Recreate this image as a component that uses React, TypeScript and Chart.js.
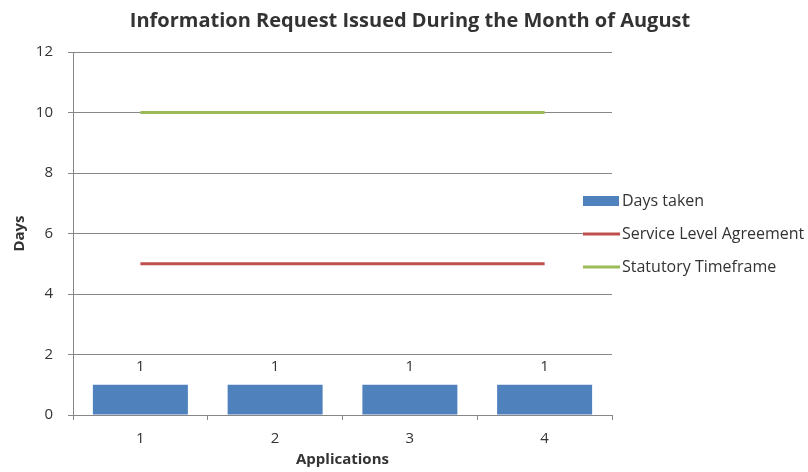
import React, { useEffect, useRef } from "react";
import { Chart, registerables } from "chart.js";

Chart.register(...registerables);

const chartTitle = "Information Request Issued During the Month of August";
const categories = ["1", "2", "3", "4"];
const daysTaken = [1, 1, 1, 1];
const serviceLevel = [5, 5, 5, 5];
const statutory = [10, 10, 10, 10];
const yTicks = [0, 2, 4, 6, 8, 10, 12];

const FONT = "'Open Sans', sans-serif";
const TEXT = "#333333";

const titlePlugin = {
  id: "centerTitle",
  afterDraw(chart: any) {
    const ctx = chart.ctx;
    ctx.save();
    ctx.font = `bold 20px ${FONT}`;
    ctx.fillStyle = TEXT;
    ctx.textAlign = "center";
    ctx.textBaseline = "middle";
    ctx.fillText(chartTitle, chart.width / 2 + 6, 21);
    ctx.restore();
  },
};

const dataLabelPlugin = {
  id: "barLabels",
  afterDatasetsDraw(chart: any) {
    const ctx = chart.ctx;
    chart.data.datasets.forEach((ds: any, i: number) => {
      if (ds.type !== "bar") return;
      const meta = chart.getDatasetMeta(i);
      ctx.save();
      ctx.font = `15px ${FONT}`;
      ctx.fillStyle = TEXT;
      ctx.textAlign = "center";
      ctx.textBaseline = "middle";
      meta.data.forEach((el: any, j: number) => {
        ctx.fillText(String(ds.data[j]), el.x, el.y - 18);
      });
      ctx.restore();
    });
  },
};

const sideLegendPlugin = {
  id: "sideLegend",
  afterDraw(chart: any) {
    const ctx = chart.ctx;
    const area = chart.chartArea;
    const mid = (area.top + area.bottom) / 2;
    const x0 = area.right - 29;
    const n = chart.data.datasets.length;
    ctx.save();
    ctx.font = `16px ${FONT}`;
    ctx.textBaseline = "middle";
    ctx.textAlign = "left";
    chart.data.datasets.forEach((ds: any, i: number) => {
      const y = Math.round(mid + (i - (n - 1) / 2) * 33);
      if (ds.type === "bar") {
        ctx.fillStyle = ds.backgroundColor;
        ctx.fillRect(x0, y - 5, 36, 10);
      } else {
        ctx.strokeStyle = ds.borderColor;
        ctx.lineWidth = 3;
        ctx.beginPath();
        ctx.moveTo(x0, y);
        ctx.lineTo(x0 + 37, y);
        ctx.stroke();
      }
      ctx.fillStyle = TEXT;
      ctx.fillText(ds.label, x0 + 39, y);
    });
    ctx.restore();
  },
};

export default function App() {
  const ref = useRef<HTMLCanvasElement | null>(null);
  useEffect(() => {
    document.body.style.margin = "0";
    if (!ref.current) return;
    const chart = new Chart(ref.current, {
      type: "bar",
      data: {
        labels: categories,
        datasets: [
          {
            type: "bar",
            label: "Days taken",
            data: daysTaken,
            backgroundColor: "#4F81BD",
            barPercentage: 0.705,
            categoryPercentage: 1,
            order: 3,
          } as any,
          {
            type: "line",
            label: "Service Level Agreement",
            data: serviceLevel,
            borderColor: "#C0504D",
            backgroundColor: "#C0504D",
            borderWidth: 3,
            pointRadius: 0,
            order: 2,
          } as any,
          {
            type: "line",
            label: "Statutory Timeframe",
            data: statutory,
            borderColor: "#9BBB59",
            backgroundColor: "#9BBB59",
            borderWidth: 3,
            pointRadius: 0,
            order: 1,
          } as any,
        ],
      },
      options: {
        responsive: false,
        animation: false,
        layout: { padding: { left: 0, right: 196, top: 52, bottom: 0 } },
        plugins: {
          legend: { display: false },
          tooltip: { enabled: false },
          title: { display: false },
        },
        scales: {
          x: {
            offset: true,
            grid: {
              offset: true,
              drawOnChartArea: false,
              drawTicks: true,
              tickLength: 5,
              color: "#878787",
            },
            border: { color: "#878787" },
            ticks: { color: TEXT, font: { family: FONT, size: 15 }, padding: 10 },
            title: {
              display: true,
              text: "Applications",
              color: TEXT,
              font: { family: FONT, size: 15, weight: "bold" },
              padding: { top: 0, bottom: 3 },
            },
            afterFit: (s: any) => {
              s.height = 57;
            },
          },
          y: {
            min: 0,
            max: 12,
            afterBuildTicks: (s: any) => {
              s.ticks = yTicks.map((v) => ({ value: v }));
            },
            grid: { color: "#878787", tickLength: 5 },
            border: { color: "#878787" },
            ticks: { color: TEXT, font: { family: FONT, size: 15 }, padding: 15 },
            title: {
              display: true,
              text: "Days",
              color: TEXT,
              font: { family: FONT, size: 15, weight: "bold" },
              padding: { top: 11, bottom: 0 },
            },
            afterFit: (s: any) => {
              s.width = 73;
            },
          },
        },
      },
      plugins: [dataLabelPlugin, sideLegendPlugin, titlePlugin],
    });
    return () => chart.destroy();
  }, []);
  return (
    <div style={{ position: "fixed", left: 0, top: 0, width: 808, height: 472, background: "#fff" }}>
      <canvas ref={ref} width={808} height={472} style={{ width: 808, height: 472 }} />
    </div>
  );
}
